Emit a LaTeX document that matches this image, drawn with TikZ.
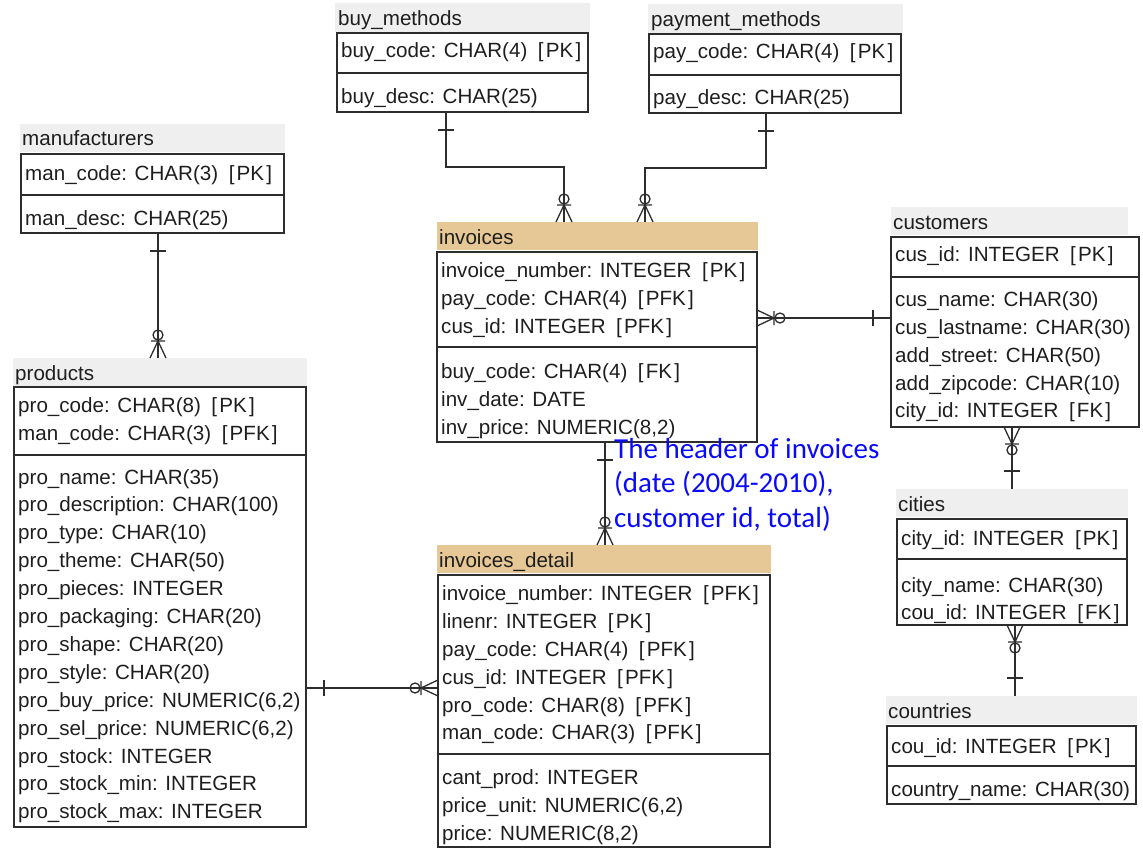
\documentclass[tikz,border=0pt]{standalone}
\usepackage{fontspec}
\newfontfamily\erf{Liberation Sans}
\newfontfamily\notef{Carlito}
\usetikzlibrary{calc}
\definecolor{hdrgray}{RGB}{239,239,239}
\definecolor{hdrtan}{RGB}{230,199,150}
\definecolor{linec}{RGB}{45,45,45}
\definecolor{txtc}{RGB}{30,30,30}
\definecolor{noteblue}{RGB}{10,10,250}
\newcommand\keytag[1]{\hspace{10.5pt}[\hspace{2.2pt}#1\hspace{2.2pt}]}
\newcommand\crowend[2]{\begin{scope}[shift={(#1)},rotate=#2]\draw[conn] (0,-8)--(17,0)--(0,8) (17,-7)--(17,7);\draw[conn] (23,0) circle[radius=5];\end{scope}}
\newcommand\oneend[2]{\begin{scope}[shift={(#1)},rotate=#2]\draw[conn] (18,-8)--(18,8);\end{scope}}
\tikzset{
  tbox/.style={draw=linec, line width=1.5pt, inner sep=0pt, outer sep=0pt, anchor=north west},
  hbox/.style={inner sep=0pt, outer sep=0pt, anchor=north west},
  ftxt/.style={anchor=base west, inner sep=0pt, font=\erf\fontsize{20.6}{24}\selectfont, text=txtc},
  divl/.style={draw=linec, line width=1.5pt},
  conn/.style={draw=linec, line width=1.3pt},
  notetxt/.style={anchor=base west, inner sep=0pt, font=\notef\fontsize{29}{34}\selectfont, text=noteblue}
}
\begin{document}
\begin{tikzpicture}[x=1pt,y=-1pt]
\useasboundingbox (0,0) rectangle (1143,848);
% ---------- manufacturers
\node[hbox, fill=hdrgray, minimum width=265, minimum height=28] (manuh) at (20,124) {};
\node[ftxt] (manut) at (22,146) {manufacturers};
\node[tbox, minimum width=263, minimum height=79] (manu) at (21,154) {};
\node[ftxt] (manu1) at (25,180) {man\_code: CHAR(3)\keytag{PK}};
\draw[divl] ($(manu.north west)+(0,41)$) -- ($(manu.north east)+(0,41)$);
\node[ftxt] (manu2) at (25,225) {man\_desc: CHAR(25)};
% ---------- buy_methods
\node[hbox, fill=hdrgray, minimum width=255, minimum height=29] (buymh) at (335,3) {};
\node[ftxt] (buymt) at (338,26) {buy\_methods};
\node[tbox, minimum width=251, minimum height=79] (buym) at (337,33) {};
\node[ftxt] (buym1) at (341,58) {buy\_code: CHAR(4)\keytag{PK}};
\draw[divl] ($(buym.north west)+(0,40)$) -- ($(buym.north east)+(0,40)$);
\node[ftxt] (buym2) at (341,104) {buy\_desc: CHAR(25)};
% ---------- payment_methods
\node[hbox, fill=hdrgray, minimum width=255, minimum height=29] (paymh) at (648,4) {};
\node[ftxt] (paymt) at (651,27) {payment\_methods};
\node[tbox, minimum width=252, minimum height=79] (paym) at (649,34) {};
\node[ftxt] (paym1) at (653,59) {pay\_code: CHAR(4)\keytag{PK}};
\draw[divl] ($(paym.north west)+(0,41)$) -- ($(paym.north east)+(0,41)$);
\node[ftxt] (paym2) at (653,105) {pay\_desc: CHAR(25)};
% ---------- invoices
\node[hbox, fill=hdrtan, minimum width=321, minimum height=28] (invh) at (437,222) {};
\node[ftxt] (invt) at (439,244) {invoices};
\node[tbox, minimum width=320, minimum height=190] (inv) at (437,252) {};
\node[ftxt] (inv1) at (441,277) {invoice\_number: INTEGER\keytag{PK}};
\node[ftxt] (inv2) at (441,305) {pay\_code: CHAR(4)\keytag{PFK}};
\node[ftxt] (inv3) at (441,333) {cus\_id: INTEGER\keytag{PFK}};
\draw[divl] ($(inv.north west)+(0,95)$) -- ($(inv.north east)+(0,95)$);
\node[ftxt] (inv4) at (441,378) {buy\_code: CHAR(4)\keytag{FK}};
\node[ftxt] (inv5) at (441,406) {inv\_date: DATE};
\node[ftxt] (inv6) at (441,434) {inv\_price: NUMERIC(8,2)};
% ---------- products
\node[hbox, fill=hdrgray, minimum width=294, minimum height=28] (prodh) at (13,358) {};
\node[ftxt] (prodt) at (15,380) {products};
\node[tbox, minimum width=292, minimum height=440] (prod) at (14,387) {};
\node[ftxt] (prod1) at (18,412) {pro\_code: CHAR(8)\keytag{PK}};
\node[ftxt] (prod2) at (18,440) {man\_code: CHAR(3)\keytag{PFK}};
\draw[divl] ($(prod.north west)+(0,68)$) -- ($(prod.north east)+(0,68)$);
\node[ftxt] (prod3) at (18,484.0) {pro\_name: CHAR(35)};
\node[ftxt] (prod4) at (18,511.9) {pro\_description: CHAR(100)};
\node[ftxt] (prod5) at (18,539.8) {pro\_type: CHAR(10)};
\node[ftxt] (prod6) at (18,567.7) {pro\_theme: CHAR(50)};
\node[ftxt] (prod7) at (18,595.6) {pro\_pieces: INTEGER};
\node[ftxt] (prod8) at (18,623.5) {pro\_packaging: CHAR(20)};
\node[ftxt] (prod9) at (18,651.4) {pro\_shape: CHAR(20)};
\node[ftxt] (prod10) at (18,679.3) {pro\_style: CHAR(20)};
\node[ftxt] (prod11) at (18,707.2) {pro\_buy\_price: NUMERIC(6,2)};
\node[ftxt] (prod12) at (18,735.1) {pro\_sel\_price: NUMERIC(6,2)};
\node[ftxt] (prod13) at (18,763.0) {pro\_stock: INTEGER};
\node[ftxt] (prod14) at (18,790.9) {pro\_stock\_min: INTEGER};
\node[ftxt] (prod15) at (18,818.8) {pro\_stock\_max: INTEGER};
% ---------- invoices_detail
\node[hbox, fill=hdrtan, minimum width=334, minimum height=28] (invdh) at (437,545) {};
\node[ftxt] (invdt) at (439,567) {invoices\_detail};
\node[tbox, minimum width=332, minimum height=272] (invd) at (438,575) {};
\node[ftxt] (invd1) at (442,600) {invoice\_number: INTEGER\keytag{PFK}};
\node[ftxt] (invd2) at (442,628) {linenr: INTEGER\keytag{PK}};
\node[ftxt] (invd3) at (442,656) {pay\_code: CHAR(4)\keytag{PFK}};
\node[ftxt] (invd4) at (442,684) {cus\_id: INTEGER\keytag{PFK}};
\node[ftxt] (invd5) at (442,712) {pro\_code: CHAR(8)\keytag{PFK}};
\node[ftxt] (invd6) at (442,739) {man\_code: CHAR(3)\keytag{PFK}};
\draw[divl] ($(invd.north west)+(0,179)$) -- ($(invd.north east)+(0,179)$);
\node[ftxt] (invd7) at (442,784) {cant\_prod: INTEGER};
\node[ftxt] (invd8) at (442,812) {price\_unit: NUMERIC(6,2)};
\node[ftxt] (invd9) at (442,840) {price: NUMERIC(8,2)};
% ---------- customers
\node[hbox, fill=hdrgray, minimum width=237, minimum height=28] (custh) at (891,207) {};
\node[ftxt] (custt) at (893,229) {customers};
\node[tbox, minimum width=248, minimum height=190] (cust) at (891,237) {};
\node[ftxt] (cust1) at (895,261) {cus\_id: INTEGER\keytag{PK}};
\draw[divl] ($(cust.north west)+(0,40)$) -- ($(cust.north east)+(0,40)$);
\node[ftxt] (cust2) at (895,306) {cus\_name: CHAR(30)};
\node[ftxt] (cust3) at (895,334) {cus\_lastname: CHAR(30)};
\node[ftxt] (cust4) at (895,362) {add\_street: CHAR(50)};
\node[ftxt] (cust5) at (895,390) {add\_zipcode: CHAR(10)};
\node[ftxt] (cust6) at (895,417) {city\_id: INTEGER\keytag{FK}};
% ---------- cities
\node[hbox, fill=hdrgray, minimum width=232, minimum height=28] (cityh) at (896,489) {};
\node[ftxt] (cityt) at (898,511) {cities};
\node[tbox, minimum width=230, minimum height=106] (city) at (897,519) {};
\node[ftxt] (city1) at (901,545) {city\_id: INTEGER\keytag{PK}};
\draw[divl] ($(city.north west)+(0,40)$) -- ($(city.north east)+(0,40)$);
\node[ftxt] (city2) at (901,592) {city\_name: CHAR(30)};
\node[ftxt] (city3) at (901,619) {cou\_id: INTEGER\keytag{FK}};
% ---------- countries
\node[hbox, fill=hdrgray, minimum width=251, minimum height=28] (counh) at (886,696) {};
\node[ftxt] (count) at (888,718) {countries};
\node[tbox, minimum width=249, minimum height=78] (coun) at (887,726) {};
\node[ftxt] (coun1) at (891,753) {cou\_id: INTEGER\keytag{PK}};
\draw[divl] ($(coun.north west)+(0,40)$) -- ($(coun.north east)+(0,40)$);
\node[ftxt] (coun2) at (891,796) {country\_name: CHAR(30)};
% ---------- note
\node[notetxt] (note1) at (614,458) {The header of invoices};
\node[notetxt] (note2) at (614,492) {(date (2004-2010),};
\node[notetxt] (note3) at (614,527) {customer id, total)};
% ---------- connectors
\coordinate (c1a) at ($(buym.south west)+(109,0)$);
\coordinate (c1b) at ($(invh.north west)+(127,0)$);
\draw[conn] (c1a) -- ++(0,55) -| (c1b);
\oneend{c1a}{-90}\crowend{c1b}{90}
\coordinate (c2a) at ($(paym.south west)+(117,0)$);
\coordinate (c2b) at ($(invh.north west)+(208,0)$);
\draw[conn] (c2a) -- ++(0,55) -| (c2b);
\oneend{c2a}{-90}\crowend{c2b}{90}
\coordinate (c3a) at ($(manu.south west)+(137,0)$);
\coordinate (c3b) at (c3a |- prodh.north);
\draw[conn] (c3a) -- (c3b);
\oneend{c3a}{-90}\crowend{c3b}{90}
\coordinate (c4a) at ($(inv.south west)+(168,0)$);
\coordinate (c4b) at (c4a |- invdh.north);
\draw[conn] (c4a) -- (c4b);
\oneend{c4a}{-90}\crowend{c4b}{90}
\coordinate (c5a) at ($(inv.north east)+(0,66)$);
\coordinate (c5b) at (c5a -| cust.west);
\draw[conn] (c5a) -- (c5b);
\crowend{c5a}{0}\oneend{c5b}{180}
\coordinate (c6a) at ($(prod.north east)+(0,301)$);
\coordinate (c6b) at (c6a -| invd.west);
\draw[conn] (c6a) -- (c6b);
\oneend{c6a}{0}\crowend{c6b}{180}
\coordinate (c7a) at ($(cust.south west)+(121,0)$);
\coordinate (c7b) at (c7a |- cityh.north);
\draw[conn] (c7a) -- (c7b);
\crowend{c7a}{-90}\oneend{c7b}{90}
\coordinate (c8a) at ($(city.south west)+(118,0)$);
\coordinate (c8b) at (c8a |- counh.north);
\draw[conn] (c8a) -- (c8b);
\crowend{c8a}{-90}\oneend{c8b}{90}
\end{tikzpicture}
\end{document}
